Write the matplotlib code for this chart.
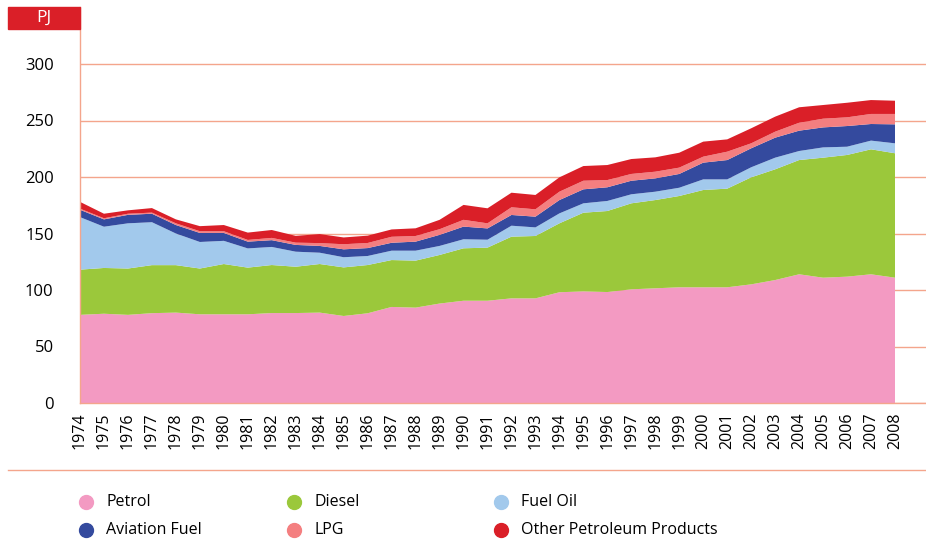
"""Transport petroleum energy use by fuel, stacked area, 1974-2008."""

import matplotlib

matplotlib.use("Agg")
import matplotlib.pyplot as plt  # noqa: E402
from matplotlib.lines import Line2D  # noqa: E402
from matplotlib.patches import Rectangle  # noqa: E402

years = list(range(1974, 2009))

petrol = [78, 79, 78, 79.5, 80, 78.5, 78.5, 78.5, 79.6, 79.6, 80, 77, 79.4, 85, 84.4,
          88, 90.5, 90.5, 92.6, 92.6, 98, 98.8, 98.2, 100.6, 101.5, 102.4, 102.4,
          102.4, 105, 108.8, 113.9, 110.9, 111.8, 113.9, 110.9]
diesel = [40, 40.5, 41, 42.5, 42, 40.5, 44.5, 41.3, 42.5, 41, 43, 43, 42.7, 41.5, 41.6,
          43, 46.4, 47, 54.6, 55.2, 61, 69.6, 71.7, 76.1, 78.1, 80.8, 86.1, 87.3,
          94.7, 98, 101.1, 106.2, 107.7, 110.6, 110.1]
fuel_oil = [46.5, 36.5, 40, 38, 28, 23.5, 20.5, 17, 16, 13.3, 10, 9, 8, 8.3, 8.8, 8,
            8, 7, 9.7, 7.6, 8.8, 8.3, 8.9, 8, 7.4, 7.3, 9.4, 8.2, 8.9, 10.3, 8, 9.1,
            7.3, 7.7, 8.8]
aviation = [6.5, 6.5, 7.5, 7.5, 7.5, 8, 7, 6, 6, 6, 6, 7, 7, 7, 8, 9.8, 11.2, 10,
            9.5, 9.5, 11.8, 12.4, 12.1, 12, 11.8, 12.2, 14.8, 17.1, 16.8, 17.7, 18,
            17.7, 18.3, 14.7, 16.8]
lpg = [1, 1, 1, 1, 1.5, 1.5, 1.5, 1.5, 2, 2, 2.5, 4.5, 4.5, 5.3, 5, 5, 6, 4.5, 6.8,
       6.5, 7.4, 7.6, 6.4, 6, 5.9, 5.6, 5.3, 7.4, 4.4, 5.3, 7, 7.7, 7.7, 8.9, 9.2]
other = [6, 4, 3, 4, 3.5, 4.5, 5.5, 6.5, 7, 6, 8, 6, 6.5, 6.5, 6.8, 8.3, 13.2, 13.3,
         12.9, 12.7, 12.7, 13, 13.3, 13.2, 12.7, 13.2, 13.3, 10.9, 13.3, 13.3, 13.7,
         12.1, 12.9, 12.3, 11.7]

labels = ["Petrol", "Diesel", "Fuel Oil", "Aviation Fuel", "LPG", "Other Petroleum Products"]
colors = ["#f39ac2", "#9bc83b", "#a2c9ec", "#344a9e", "#f47f80", "#da1f28"]
y_ticks = [0, 50, 100, 150, 200, 250, 300]

GRID = "#f4a58c"
W, H = 926, 542
FONT = ["Open Sans", "DejaVu Sans"]
plt.rcParams["font.family"] = FONT

fig = plt.figure(figsize=(W / 100, H / 100), dpi=100)
# plot area: x=80..926 px, y=7..403 px; 1974 at x=80, 2008 at x=895
ax = fig.add_axes([80 / W, 1 - 403 / H, (W - 80) / W, 396 / H])
ax.stackplot(years, petrol, diesel, fuel_oil, aviation, lpg, other,
             colors=colors, linewidth=0)

px_per_year = (895 - 80) / 34
ax.set_xlim(1974, 1974 + (W - 80) / px_per_year)
ax.set_ylim(0, 396 / 1.13)

ax.set_yticks(y_ticks)
ax.set_xticks(years)
ax.set_xticklabels([str(y) for y in years], rotation=90, fontsize=11.5)
ax.tick_params(axis="y", length=0, pad=19, labelsize=12)
ax.tick_params(axis="x", length=0, pad=7)

ax.set_axisbelow(True)
ax.grid(axis="y", color=GRID, linewidth=1)
for side in ("top", "right"):
    ax.spines[side].set_visible(False)
for side in ("left", "bottom"):
    ax.spines[side].set_color(GRID)
    ax.spines[side].set_linewidth(1)

# unit box
fig.add_artist(Rectangle((8 / W, 1 - 29 / H), 72 / W, 22 / H,
                         transform=fig.transFigure, color="#da1f28"))
fig.text(44 / W, 1 - 18 / H, "PJ", color="white", fontsize=12.5,
         ha="center", va="center")

# separator above legend
fig.add_artist(Line2D([8 / W, 1], [1 - 470 / H] * 2, color=GRID, linewidth=1,
                      transform=fig.transFigure))

# legend, 3 columns x 2 rows
col_x = [86, 294, 501]
row_y = [502, 530]
for i, (lab, col) in enumerate(zip(labels, colors)):
    cx = col_x[i % 3]
    cy = row_y[i // 3]
    fig.add_artist(Line2D([cx / W], [1 - cy / H], marker="o", markersize=10,
                          color=col, linestyle="none", transform=fig.transFigure))
    fig.text((cx + 20) / W, 1 - cy / H, lab, fontsize=11.5, va="center", ha="left")

fig.savefig("out.png", dpi=100)
plt.close(fig)
